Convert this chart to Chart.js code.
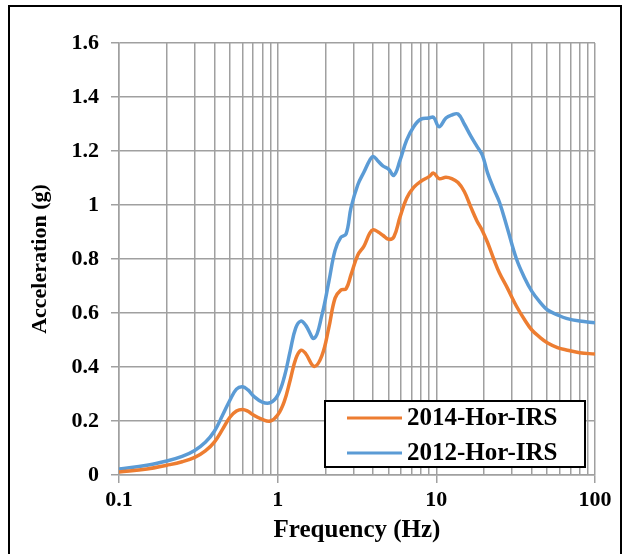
<!DOCTYPE html>
<html>
<head>
<meta charset="utf-8">
<script src="https://cdn.jsdelivr.net/npm/chart.js@4.4.1/dist/chart.umd.min.js"></script>
<style>
  html, body { margin: 0; padding: 0; background: #fff; }
  #wrap { width: 624px; height: 554px; position: relative; }
</style>
</head>
<body>
<div id="wrap"><canvas id="chart"></canvas></div>
<script>
// frequency (Hz) shared by both spectra
const frequency = [0.1, 0.15, 0.2, 0.25, 0.3, 0.35, 0.4, 0.45, 0.5, 0.55, 0.6, 0.65, 0.7, 0.8, 0.9,
  1.0, 1.1, 1.2, 1.3, 1.4, 1.5, 1.7, 1.9, 2.1, 2.3, 2.5, 2.7, 2.9, 3.2, 3.5, 3.8, 4.0, 4.3, 4.6,
  5.0, 5.4, 5.9, 6.5, 7.2, 8.0, 9.0, 9.6, 10.4, 11.5, 12.5, 13.7, 15, 16.5, 18, 19.5, 21, 23, 25,
  28, 32, 36, 40, 45, 50, 58, 66, 80, 100];

// acceleration (g)
const irs2014 = [0.011, 0.022, 0.036, 0.049, 0.065, 0.089, 0.123, 0.170, 0.214, 0.237, 0.243, 0.236, 0.223, 0.206, 0.200,
  0.222, 0.272, 0.352, 0.430, 0.462, 0.450, 0.402, 0.442, 0.545, 0.655, 0.685, 0.690, 0.742, 0.815, 0.848, 0.895, 0.908, 0.900, 0.888,
  0.873, 0.882, 0.955, 1.025, 1.065, 1.088, 1.105, 1.118, 1.098, 1.103, 1.098, 1.083, 1.050, 0.992, 0.942, 0.905, 0.862, 0.800, 0.748,
  0.693, 0.625, 0.575, 0.537, 0.510, 0.490, 0.472, 0.463, 0.453, 0.448];

const irs2012 = [0.022, 0.036, 0.052, 0.069, 0.091, 0.121, 0.163, 0.222, 0.277, 0.318, 0.327, 0.315, 0.294, 0.270, 0.268,
  0.295, 0.362, 0.460, 0.545, 0.570, 0.555, 0.506, 0.592, 0.715, 0.832, 0.880, 0.893, 0.990, 1.075, 1.122, 1.165, 1.180, 1.162, 1.145,
  1.133, 1.110, 1.165, 1.240, 1.290, 1.318, 1.322, 1.325, 1.290, 1.322, 1.333, 1.337, 1.300, 1.255, 1.218, 1.185, 1.120, 1.060, 1.010,
  0.915, 0.800, 0.730, 0.680, 0.640, 0.612, 0.593, 0.580, 0.570, 0.564];

const xLabels = [0.1, 1, 10, 100];
const yMin = 0, yMax = 1.6, yStep = 0.2;

const gridColor = "#a0a0a0";
const serif = "'Liberation Serif', 'Times New Roman', serif";

// grid positions 1..9 x 10^n between 0.1 and 100
const xGrid = [];
[0.1, 1, 10].forEach((d) => {
  for (let m = 1; m <= 9; m++) xGrid.push(parseFloat((m * d).toPrecision(2)));
});
xGrid.push(100);

const toPoints = (ys) => frequency.map((f, i) => ({ x: f, y: ys[i] }));

const frame = {
  id: "frame",
  beforeDraw(chart) {
    const ctx = chart.ctx;
    ctx.save();
    ctx.fillStyle = "#fff";
    ctx.fillRect(0, 0, chart.width, chart.height);
    ctx.strokeStyle = "#000";
    ctx.lineWidth = 2;
    ctx.beginPath();
    ctx.moveTo(9, chart.height);
    ctx.lineTo(9, 6);
    ctx.lineTo(621, 6);
    ctx.lineTo(621, chart.height);
    ctx.stroke();
    ctx.restore();
  },
};

const boxLegend = {
  id: "boxLegend",
  afterDraw(chart) {
    const ctx = chart.ctx;
    const x = 325, y = 401, w = 260, h = 66;
    ctx.save();
    ctx.fillStyle = "#fff";
    ctx.fillRect(x, y, w, h);
    ctx.strokeStyle = "#000";
    ctx.lineWidth = 2;
    ctx.strokeRect(x, y, w, h);
    ctx.font = "bold 25px " + serif;
    ctx.textBaseline = "middle";
    ctx.fillStyle = "#000";
    chart.data.datasets.forEach((ds, i) => {
      const ly = y + 17 + i * 35;
      ctx.strokeStyle = ds.borderColor;
      ctx.lineWidth = 3;
      ctx.beginPath();
      ctx.moveTo(x + 22, ly);
      ctx.lineTo(x + 77, ly);
      ctx.stroke();
      ctx.fillText(ds.label, x + 82, ly + 1);
    });
    ctx.restore();
  },
};

new Chart(document.getElementById("chart"), {
  type: "line",
  data: {
    datasets: [
      {
        label: "2014-Hor-IRS",
        data: toPoints(irs2014),
        borderColor: "#ED7D31",
        borderWidth: 3.5,
        pointRadius: 0,
        tension: 0.4,
      },
      {
        label: "2012-Hor-IRS",
        data: toPoints(irs2012),
        borderColor: "#5B9BD5",
        borderWidth: 3.5,
        pointRadius: 0,
        tension: 0.4,
      },
    ],
  },
  options: {
    responsive: true,
    maintainAspectRatio: false,
    animation: false,
    layout: { padding: { left: 10, right: 29, top: 43, bottom: 0 } },
    plugins: {
      legend: { display: false },
      tooltip: { enabled: false },
    },
    scales: {
      x: {
        type: "logarithmic",
        min: 0.1,
        max: 100,
        afterFit(scale) {
          scale.height = 79;
        },
        afterBuildTicks(scale) {
          scale.ticks = xGrid.map((v) => ({ value: v, major: xLabels.includes(v) }));
        },
        grid: {
          color: gridColor,
          lineWidth: 1.5,
          tickLength: 8,
          tickColor: (c) => (c.tick && xLabels.includes(c.tick.value) ? gridColor : "rgba(0,0,0,0)"),
        },
        border: { color: gridColor, width: 1.5 },
        ticks: {
          autoSkip: false,
          maxRotation: 0,
          padding: 4,
          color: "#000",
          font: { family: serif, size: 22, weight: "bold" },
          callback: (v) => (xLabels.includes(v) ? String(v) : ""),
        },
        title: {
          display: true,
          text: "Frequency (Hz)",
          color: "#000",
          font: { family: serif, size: 25, weight: "bold" },
          padding: { top: 0, bottom: 8 },
        },
      },
      y: {
        min: yMin,
        max: yMax,
        afterFit(scale) {
          scale.width = 109;
        },
        grid: {
          color: gridColor,
          lineWidth: 1.5,
          tickLength: 8,
          tickColor: gridColor,
        },
        border: { color: gridColor, width: 1.5 },
        ticks: {
          stepSize: yStep,
          padding: 12,
          color: "#000",
          font: { family: serif, size: 22, weight: "bold" },
          callback: (v) => String(Math.round(v * 10) / 10),
        },
        title: {
          display: true,
          text: "Acceleration (g)",
          color: "#000",
          font: { family: serif, size: 22, weight: "bold" },
          padding: { top: 17, bottom: 0 },
        },
      },
    },
  },
  plugins: [frame, boxLegend],
});
</script>
</body>
</html>
